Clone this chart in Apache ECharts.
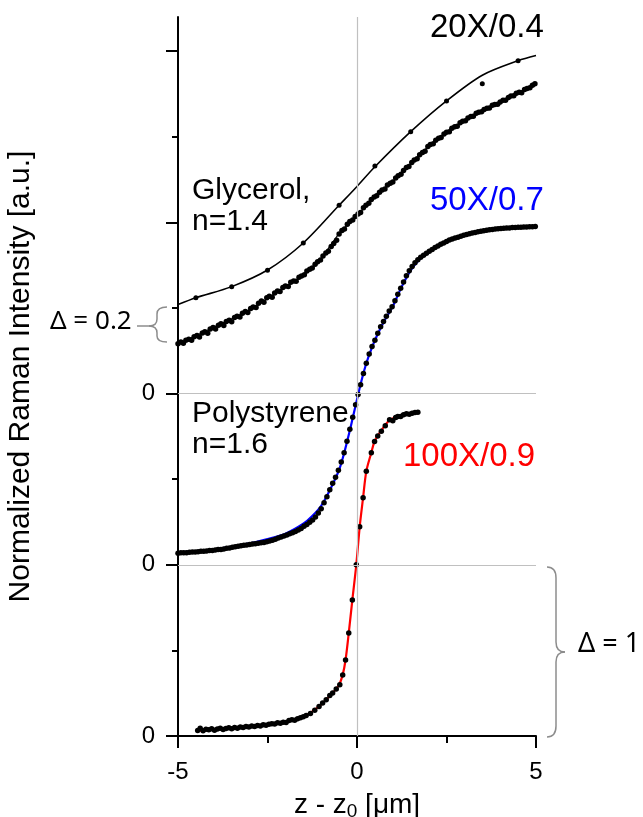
<!DOCTYPE html>
<html>
<head>
<meta charset="utf-8">
<title>Normalized Raman Intensity vs z - z0</title>
<script src="https://cdn.jsdelivr.net/npm/echarts@6/dist/echarts.min.js"></script>
<style>
html, body { margin: 0; padding: 0; background: #fff; }
#main { width: 643px; height: 817px; }
</style>
</head>
<body>
<div id="main"></div>
<script>
var FONT = 'Liberation Sans, Arial, sans-serif';

// axis ticks
var xTicks = [-5, 0, 5];
var yMajorTicks = [0, 1, 2, 3, 4];
var yMinorTicks = [0.5, 1.5, 2.5, 3.5];
var yLabelValues = [0, 1, 2];
var yLabelTexts = ['0', '0', '0'];

// 20X/0.4 glycerol, upper fitted curve + its sparse points
var gly20FitZ = [-5, -4.5, -3.5, -2.5, -1.5, -0.5, 0, 0.5, 1.5, 2.5, 3.5, 4.5, 5];
var gly20FitI = [2.52, 2.56, 2.625, 2.722, 2.88, 3.10, 3.21, 3.325, 3.53, 3.71, 3.86, 3.945, 3.975];
var gly20DotZ = [-4.5, -3.5, -2.5, -1.5, -0.5, 0.5, 1.5, 2.5, 3.5, 4.5];
var gly20DotI = [2.56, 2.625, 2.72, 2.88, 3.10, 3.33, 3.53, 3.71, 3.81, 3.945];

// 20X/0.4 glycerol, lower measured curve (dense) + thin line
var gly20LowFitZ = [-5, -4, -3, -2, -1.5, -1, -0.5, 0, 0.5, 1, 1.5, 2, 2.5, 3, 3.5, 4, 4.5, 5];
var gly20LowFitI = [2.29, 2.388, 2.49, 2.624, 2.69, 2.79, 2.935, 3.04, 3.15, 3.24, 3.34, 3.445, 3.525, 3.595, 3.65, 3.70, 3.755, 3.81];
var gly20Pts = [
  [-5.00,2.292],[-4.92,2.302],[-4.85,2.294],[-4.78,2.312],[-4.70,2.318],[-4.62,2.312],[-4.55,2.332],[-4.47,2.340],[-4.40,2.331],
  [-4.32,2.354],[-4.25,2.362],[-4.17,2.352],[-4.10,2.378],[-4.02,2.386],[-3.95,2.378],[-3.87,2.399],[-3.80,2.408],[-3.72,2.398],
  [-3.65,2.421],[-3.57,2.429],[-3.50,2.420],[-3.42,2.444],[-3.35,2.452],[-3.27,2.448],[-3.20,2.469],[-3.12,2.479],[-3.05,2.474],
  [-2.97,2.497],[-2.90,2.506],[-2.82,2.503],[-2.75,2.528],[-2.67,2.541],[-2.60,2.534],[-2.52,2.560],[-2.45,2.569],[-2.37,2.563],
  [-2.30,2.588],[-2.22,2.599],[-2.15,2.596],[-2.07,2.620],[-2.00,2.629],[-1.92,2.626],[-1.85,2.650],[-1.77,2.658],[-1.70,2.657],
  [-1.62,2.680],[-1.55,2.687],[-1.47,2.694],[-1.40,2.716],[-1.32,2.727],[-1.25,2.734],[-1.17,2.756],[-1.10,2.771],[-1.02,2.780],
  [-0.95,2.804],[-0.87,2.821],[-0.80,2.832],[-0.72,2.860],[-0.65,2.877],[-0.57,2.896],[-0.50,2.932],[-0.42,2.953],[-0.35,2.962],
  [-0.27,2.989],[-0.20,3.005],[-0.12,3.014],[-0.05,3.034],[0.03,3.049],[0.10,3.058],[0.18,3.086],[0.25,3.101],[0.33,3.112],
  [0.40,3.134],[0.48,3.149],[0.55,3.156],[0.63,3.176],[0.70,3.189],[0.78,3.196],[0.85,3.218],[0.93,3.229],[1.00,3.236],
  [1.08,3.260],[1.15,3.273],[1.23,3.282],[1.30,3.304],[1.38,3.321],[1.45,3.326],[1.53,3.350],[1.60,3.365],[1.68,3.372],
  [1.75,3.396],[1.83,3.409],[1.90,3.416],[1.98,3.444],[2.05,3.455],[2.13,3.460],[2.20,3.480],[2.28,3.491],[2.35,3.496],
  [2.43,3.516],[2.50,3.527],[2.58,3.530],[2.65,3.550],[2.73,3.559],[2.80,3.562],[2.88,3.582],[2.95,3.591],[3.03,3.594],
  [3.10,3.610],[3.18,3.619],[3.25,3.620],[3.33,3.638],[3.40,3.643],[3.48,3.646],[3.55,3.660],[3.63,3.667],[3.70,3.668],
  [3.78,3.684],[3.85,3.689],[3.93,3.690],[4.00,3.704],[4.08,3.713],[4.15,3.714],[4.23,3.730],[4.30,3.739],[4.38,3.740],
  [4.45,3.754],[4.53,3.761],[4.60,3.758],[4.68,3.776],[4.75,3.783],[4.83,3.786],[4.90,3.802],[4.97,3.810]
];

// 50X/0.7 polystyrene, fitted (blue) + measured points
var ps50FitZ = [-5, -4, -3, -2.5, -2, -1.5, -1.25, -1, -0.75, -0.5, -0.35, -0.2, -0.1, 0, 0.1, 0.25, 0.4, 0.55, 0.75, 1, 1.25, 1.5, 1.75, 2, 2.5, 3, 3.5, 4, 4.5, 5];
var ps50FitI = [1.072, 1.09, 1.125, 1.15, 1.182, 1.24, 1.285, 1.345, 1.44, 1.555, 1.66, 1.785, 1.875, 1.965, 2.055, 2.17, 2.26, 2.335, 2.42, 2.51, 2.625, 2.72, 2.785, 2.83, 2.893, 2.928, 2.951, 2.963, 2.97, 2.975];
var ps50Pts = [
  [-5.00,1.068],[-4.92,1.070],[-4.84,1.071],[-4.76,1.071],[-4.68,1.074],[-4.60,1.075],[-4.52,1.075],[-4.44,1.077],[-4.36,1.079],
  [-4.28,1.079],[-4.20,1.081],[-4.12,1.083],[-4.04,1.084],[-3.96,1.086],[-3.88,1.089],[-3.80,1.090],[-3.72,1.093],[-3.64,1.097],
  [-3.56,1.098],[-3.48,1.102],[-3.40,1.106],[-3.32,1.108],[-3.24,1.111],[-3.16,1.114],[-3.08,1.116],[-3.00,1.118],[-2.92,1.121],
  [-2.84,1.123],[-2.76,1.126],[-2.68,1.129],[-2.60,1.131],[-2.52,1.135],[-2.44,1.139],[-2.36,1.143],[-2.28,1.149],[-2.20,1.156],
  [-2.12,1.162],[-2.04,1.168],[-1.96,1.174],[-1.88,1.181],[-1.80,1.188],[-1.72,1.195],[-1.64,1.203],[-1.56,1.212],[-1.48,1.225],
  [-1.40,1.236],[-1.32,1.248],[-1.24,1.262],[-1.16,1.280],[-1.08,1.302],[-1.00,1.328],
  [-0.92,1.362],[-0.84,1.398],[-0.76,1.438],[-0.68,1.476],[-0.60,1.512],[-0.52,1.552],[-0.44,1.600],[-0.36,1.655],[-0.28,1.722],
  [-0.20,1.792],[-0.12,1.862],[-0.04,1.935],[0.03,1.995],[0.10,2.052],[0.18,2.118],[0.26,2.178],[0.34,2.232],[0.42,2.275],
  [0.50,2.312],[0.58,2.352],[0.66,2.390],[0.74,2.422],[0.82,2.452],[0.90,2.482],[0.98,2.508],[1.06,2.542],[1.14,2.580],
  [1.22,2.615],[1.30,2.652],[1.38,2.688],[1.46,2.718],[1.54,2.742],[1.62,2.764],[1.70,2.782],
  [1.78,2.797],[1.86,2.808],[1.94,2.820],[2.02,2.832],[2.10,2.842],[2.18,2.854],[2.26,2.862],[2.34,2.872],[2.42,2.880],
  [2.50,2.888],[2.58,2.897],[2.66,2.903],[2.74,2.909],[2.82,2.914],[2.90,2.919],[2.98,2.925],[3.06,2.929],[3.14,2.934],
  [3.22,2.938],[3.30,2.941],[3.38,2.945],[3.46,2.949],[3.54,2.951],[3.62,2.954],[3.70,2.957],[3.78,2.959],[3.86,2.961],
  [3.94,2.963],[4.02,2.965],[4.10,2.966],[4.18,2.967],[4.26,2.968],[4.34,2.970],[4.42,2.971],[4.50,2.972],[4.58,2.972],
  [4.66,2.973],[4.74,2.974],[4.82,2.975],[4.90,2.975],[4.98,2.976]
];

// 100X/0.9 polystyrene, fitted (red) + measured points
var ps100FitZ = [-4.45, -4, -3.5, -3, -2.5, -2, -1.5, -1.2, -1, -0.8, -0.65, -0.5, -0.4, -0.32, -0.23, -0.13, -0.02, 0.075, 0.17, 0.26, 0.4, 0.49, 0.68, 0.91, 1.14, 1.38, 1.7];
var ps100FitI = [0.03, 0.038, 0.046, 0.055, 0.066, 0.082, 0.112, 0.15, 0.185, 0.225, 0.258, 0.3, 0.357, 0.444, 0.602, 0.795, 1.0, 1.222, 1.392, 1.546, 1.655, 1.72, 1.785, 1.845, 1.867, 1.882, 1.892];
var ps100Pts = [
  [-4.45,0.032],[-4.38,0.045],[-4.30,0.030],[-4.22,0.040],[-4.14,0.036],[-4.06,0.043],[-3.98,0.034],[-3.90,0.041],[-3.82,0.046],
  [-3.74,0.038],[-3.66,0.044],[-3.58,0.048],[-3.50,0.042],[-3.42,0.049],[-3.34,0.046],[-3.26,0.052],[-3.18,0.049],[-3.10,0.055],
  [-3.02,0.053],[-2.94,0.058],[-2.86,0.056],[-2.78,0.061],[-2.70,0.059],[-2.62,0.065],[-2.54,0.063],[-2.46,0.069],[-2.38,0.072],
  [-2.30,0.070],[-2.22,0.077],[-2.14,0.075],[-2.06,0.081],[-1.98,0.079],[-1.90,0.090],[-1.82,0.095],[-1.74,0.092],[-1.66,0.101],
  [-1.58,0.106],[-1.50,0.113],[-1.42,0.120],
  [-1.30,0.132],[-1.18,0.150],[-1.06,0.172],[-0.96,0.193],[-0.86,0.212],[-0.76,0.236],[-0.68,0.251],[-0.58,0.274],[-0.48,0.300],
  [-0.40,0.357],[-0.32,0.444],[-0.23,0.602],[-0.13,0.795],[-0.02,1.000],[0.075,1.222],[0.17,1.392],[0.26,1.546],[0.40,1.655],
  [0.49,1.721],[0.58,1.752],[0.68,1.780],[0.79,1.812],[0.91,1.848],[1.00,1.842],[1.08,1.860],[1.14,1.867],[1.22,1.866],
  [1.30,1.876],[1.38,1.883],[1.46,1.880],[1.54,1.886],[1.62,1.889],[1.70,1.891]
];

function pairs(zs, is) {
  var out = [];
  for (var k = 0; k < zs.length; k++) out.push([zs[k], is[k]]);
  return out;
}

var myChart = echarts.init(document.getElementById('main'));

function fitLine(name, data, color, width) {
  return {
    name: name,
    type: 'line',
    data: data,
    smooth: 0.3,
    showSymbol: false,
    symbol: 'none',
    silent: true,
    lineStyle: { color: color, width: width },
    z: 2
  };
}

function dots(name, data, size) {
  return {
    name: name,
    type: 'scatter',
    data: data,
    symbolSize: size,
    silent: true,
    itemStyle: { color: '#000', opacity: 1 },
    z: 3
  };
}

// grey curly brackets, drawn as pieces
var braceStyle = { stroke: '#8c8c8c', lineWidth: 1.5, fill: 'none' };
function curve(x1, y1, cx, cy, x2, y2) {
  return { type: 'bezierCurve', silent: true, shape: { x1: x1, y1: y1, cpx1: cx, cpy1: cy, x2: x2, y2: y2 }, style: braceStyle };
}
function seg(x1, y1, x2, y2) {
  return { type: 'line', silent: true, shape: { x1: x1, y1: y1, x2: x2, y2: y2 }, style: braceStyle };
}

var upperFit = fitLine('20X fit', pairs(gly20FitZ, gly20FitI), '#000', 1.6);
// grey reference lines at z = z0 and at the two shifted zeros
upperFit.markLine = {
  silent: true,
  symbol: 'none',
  label: { show: false },
  lineStyle: { color: '#c0c0c0', width: 1.2, type: 'solid' },
  data: [{ xAxis: 0 }, { yAxis: 1 }, { yAxis: 2 }]
};

option = {
  animation: false,
  backgroundColor: '#fff',
  grid: { left: 178, right: 107, top: 17, bottom: 81, containLabel: false, outerBoundsMode: 'none' },
  xAxis: {
    type: 'value',
    min: -5,
    max: 5,
    interval: 5,
    name: 'z - z{sub|0} [μm]',
    nameLocation: 'middle',
    nameGap: 49,
    nameTextStyle: {
      fontFamily: FONT, fontSize: 28, color: '#000', lineHeight: 32,
      rich: { sub: { fontFamily: FONT, fontSize: 19, verticalAlign: 'bottom', lineHeight: 18, color: '#000' } }
    },
    axisLine: { onZero: false, lineStyle: { color: '#000', width: 2 } },
    axisTick: { length: 12, lineStyle: { color: '#000', width: 2 } },
    minorTick: { show: true, splitNumber: 2, length: 7, lineStyle: { color: '#000', width: 2 } },
    axisLabel: {
      fontFamily: FONT, fontSize: 24, color: '#000', margin: 24,
      formatter: function (v) { return xTicks.indexOf(v) >= 0 ? String(v) : ''; }
    },
    splitLine: { show: false }
  },
  yAxis: [{
    type: 'value',
    min: 0,
    max: 4.2,
    name: 'Normalized Raman Intensity [a.u.]',
    nameLocation: 'middle',
    nameRotate: 90,
    nameGap: 142,
    nameTextStyle: { fontFamily: FONT, fontSize: 30, color: '#000' },
    axisLine: { onZero: false, lineStyle: { color: '#000', width: 2 } },
    axisTick: { length: 12, customValues: yMajorTicks, lineStyle: { color: '#000', width: 2 } },
    axisLabel: {
      fontFamily: FONT, fontSize: 24, color: '#000', margin: 23,
      customValues: yLabelValues,
      formatter: function (v) { return yLabelTexts[yLabelValues.indexOf(v)] || ''; }
    },
    splitLine: { show: false }
  }, {
    type: 'value',
    min: 0,
    max: 4.2,
    position: 'left',
    axisLine: { show: false, onZero: false },
    axisTick: { length: 6, customValues: yMinorTicks, lineStyle: { color: '#000', width: 2 } },
    axisLabel: { show: false },
    splitLine: { show: false }
  }],
  graphic: [
    { type: 'text', left: 430, top: 11, style: { text: '20X/0.4', fill: '#000', font: '33px ' + FONT } },
    { type: 'text', left: 192, top: 175, style: { text: 'Glycerol,\nn=1.4', fill: '#000', font: '30px ' + FONT, lineHeight: 31 } },
    { type: 'text', left: 430, top: 184, style: { text: '50X/0.7', fill: '#0000ff', font: '33px ' + FONT } },
    { type: 'text', left: 192, top: 398, style: { text: 'Polystyrene\nn=1.6', fill: '#000', font: '30px ' + FONT, lineHeight: 31 } },
    { type: 'text', left: 403, top: 440, style: { text: '100X/0.9', fill: '#ff0000', font: '33px ' + FONT } },
    { type: 'text', left: 50, top: 309, style: { text: 'Δ = 0.2', fill: '#000', font: '26px Noto Sans, sans-serif' } },
    { type: 'text', left: 578, top: 631, style: { text: 'Δ = 1', fill: '#000', font: '27px Noto Sans, sans-serif' } },
    // Δ = 0.2 bracket
    curve(167, 307, 157, 307, 157, 314), seg(157, 314, 157, 319), curve(157, 319, 157, 326, 149, 326),
    curve(149, 326, 157, 326, 157, 333), seg(157, 333, 157, 336), curve(157, 336, 157, 342, 167, 342),
    seg(137, 326, 149, 326),
    // Δ = 1 bracket
    curve(547, 567, 556, 567, 556, 578), seg(556, 578, 556, 642), curve(556, 642, 556, 652, 565, 652),
    curve(565, 652, 556, 652, 556, 662), seg(556, 662, 556, 726), curve(556, 726, 556, 737, 547, 737)
  ],
  series: [
    upperFit,
    fitLine('20X data line', pairs(gly20LowFitZ, gly20LowFitI), '#000', 1.2),
    fitLine('50X fit', pairs(ps50FitZ, ps50FitI), '#0000ff', 2.2),
    fitLine('100X fit', pairs(ps100FitZ, ps100FitI), '#ff0000', 2.2),
    dots('20X fit points', pairs(gly20DotZ, gly20DotI), 5),
    dots('20X data', gly20Pts, 5.5),
    dots('50X data', ps50Pts, 5.5),
    dots('100X data', ps100Pts, 5.5)
  ]
};

myChart.setOption(option);
window.onresize = myChart.resize;
</script>
</body>
</html>
